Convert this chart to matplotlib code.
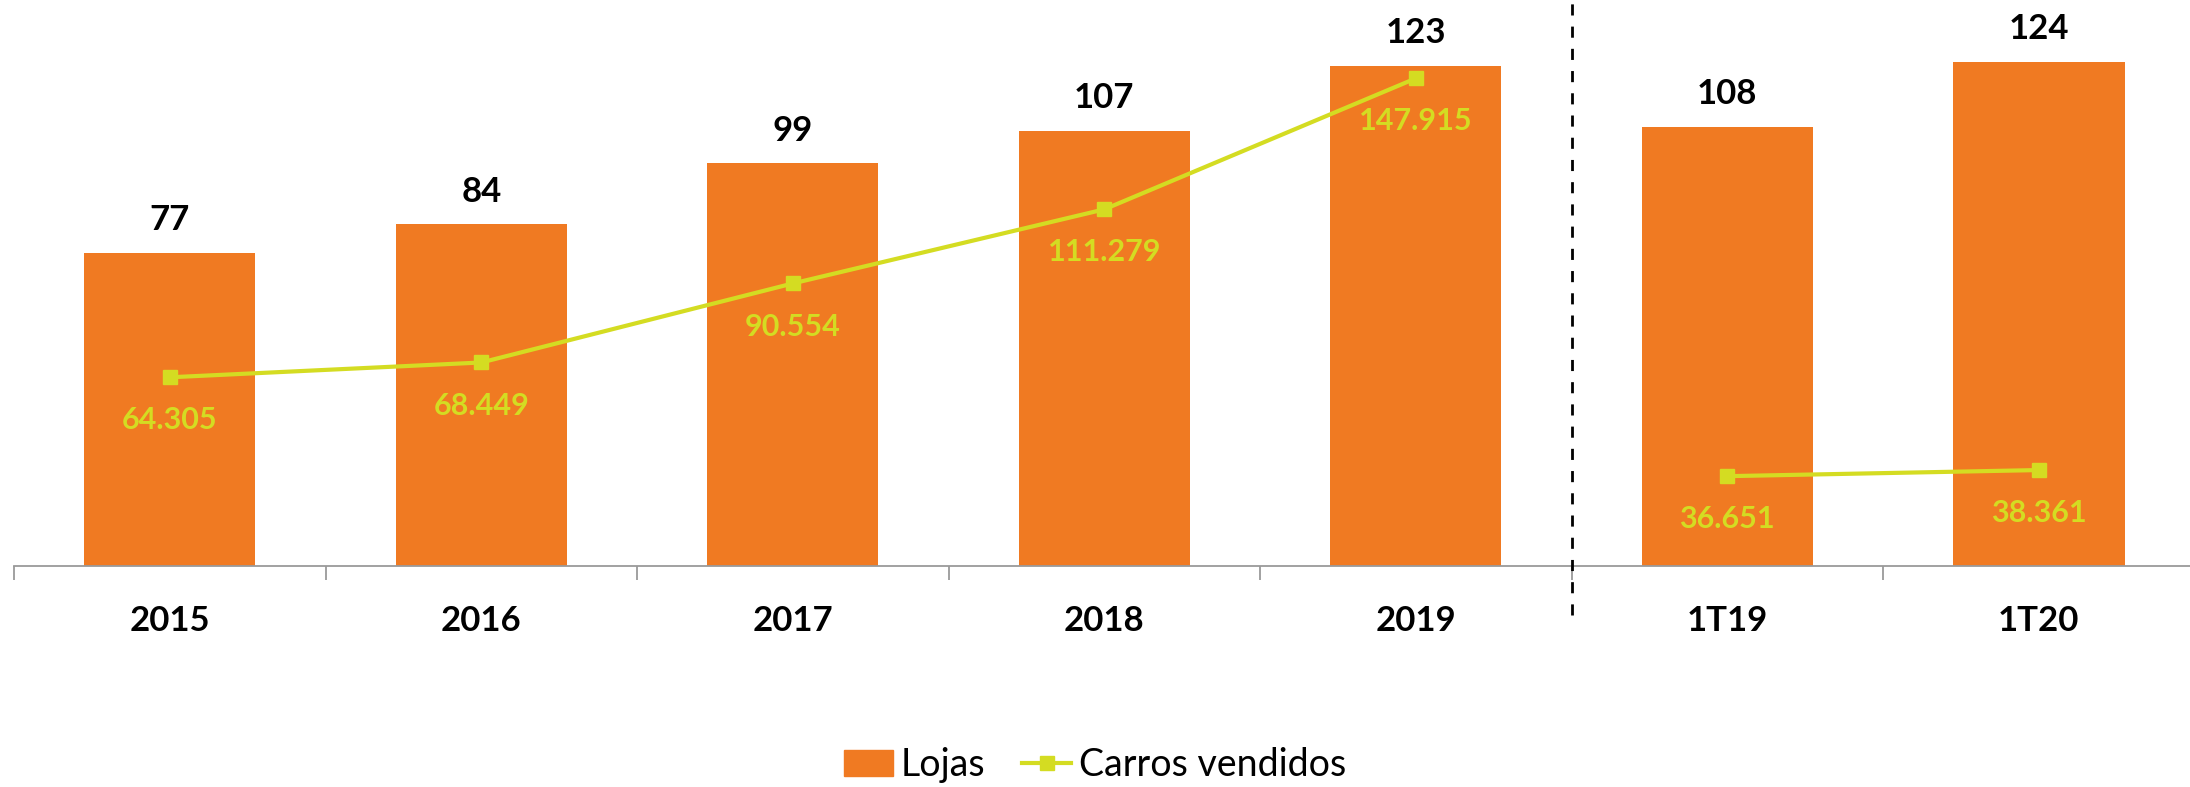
import matplotlib
matplotlib.use("Agg")
import matplotlib.pyplot as plt
from matplotlib.lines import Line2D
from matplotlib.patches import Patch

plt.rcParams['font.family'] = ['Lato', 'DejaVu Sans']

# dados
categorias = ["2015", "2016", "2017", "2018", "2019", "1T19", "1T20"]
lojas = [77, 84, 99, 107, 123, 108, 124]
carros = [64305, 68449, 90554, 111279, 147915, 36651, 38361]
carros_labels = ["64.305", "68.449", "90.554", "111.279", "147.915", "36.651", "38.361"]

laranja = "#F07A22"
verde = "#D4DC22"

fig = plt.figure(figsize=(21.9, 7.87), dpi=100)
ax = fig.add_axes([0.0064, 0.281, 0.9957, 0.719])
x = list(range(len(categorias)))

ax.bar(x, lojas, width=0.55, color=laranja, zorder=2)
ax.set_xlim(-0.5, 6.5)
ax.set_ylim(0, 139.2)

for xi, v in zip(x, lojas):
    ax.annotate(str(v), (xi, v), xytext=(0, 12), textcoords="offset points",
                ha="center", va="bottom", fontsize=25, fontweight="bold", color="black")

# eixo
for s in ["top", "right", "left"]:
    ax.spines[s].set_visible(False)
ax.spines["bottom"].set_color("#9a9a9a")
ax.spines["bottom"].set_linewidth(1.3)
ax.set_yticks([])
ax.set_xticks(x)
ax.set_xticklabels(categorias, fontsize=25, fontweight="bold")
ax.tick_params(axis="x", which="major", length=0, pad=28)
ax.set_xticks([i - 0.5 for i in range(len(categorias) + 1)], minor=True)
ax.tick_params(axis="x", which="minor", length=10, color="#9a9a9a", width=1.3)

# linha tracejada entre anos e trimestres
ax.axvline(4.5, ymin=-0.086, ymax=1.0, color="black", linestyle=(0, (4, 4)),
           linewidth=2, clip_on=False, zorder=3)

# carros vendidos (eixo secundario)
ax2 = ax.twinx()
ax2.set_ylim(11567, 169833)
ax2.axis("off")
ax2.plot(x[:5], carros[:5], color=verde, linewidth=3, marker="s", markersize=10, zorder=4)
ax2.plot(x[5:], carros[5:], color=verde, linewidth=3, marker="s", markersize=10, zorder=4)
for xi, v, lab in zip(x, carros, carros_labels):
    ax2.annotate(lab, (xi, v), xytext=(0, -31), textcoords="offset points",
                 ha="center", va="center", fontsize=22, fontweight="bold", color=verde)

handles = [Patch(color=laranja, label="Lojas"),
           Line2D([0], [0], color=verde, linewidth=3, marker="s", markersize=10,
                  label="Carros vendidos")]
fig.legend(handles=handles, loc="center", bbox_to_anchor=(0.5, 0.028), ncol=2,
           frameon=False, fontsize=27, handlelength=1.3, handletextpad=0.2,
           columnspacing=1.0)

fig.savefig("out.png", dpi=100)
